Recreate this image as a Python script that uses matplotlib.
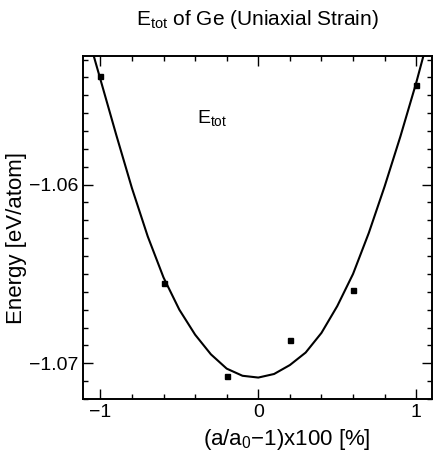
import matplotlib
matplotlib.use("Agg")
import matplotlib.pyplot as plt
from matplotlib.ticker import MultipleLocator, FixedLocator

plt.rcParams['font.family'] = ['Liberation Sans', 'DejaVu Sans']

# data points (strain %, energy eV/atom)
strain = [-1.0, -0.6, -0.2, 0.2, 0.6, 1.0]
energy = [-1.0539, -1.0655, -1.0707, -1.0687, -1.0659, -1.0544]

# fitted curve
fit_x = [-1.1, -1.0, -0.9, -0.8, -0.7, -0.6, -0.5, -0.4, -0.3, -0.2, -0.1, 0.0,
         0.1, 0.2, 0.3, 0.4, 0.5, 0.6, 0.7, 0.8, 0.9, 1.0, 1.1]
fit_y = [-1.0510, -1.0541, -1.0572, -1.0602, -1.0629, -1.0652, -1.0670, -1.0684,
         -1.0695, -1.0703, -1.0707, -1.0708, -1.0706, -1.0701, -1.0694, -1.0683,
         -1.0668, -1.0650, -1.0627, -1.0601, -1.0573, -1.0543, -1.0510]

x_ticks = [-1, 0, 1]
x_ticklabels = ['\u22121', '0', '1']
y_ticks = [-1.07, -1.06]
y_ticklabels = ['\u22121.07', '\u22121.06']

fig = plt.figure(figsize=(4.33, 4.53), dpi=100)
ax = fig.add_axes([83/433, 1-399/453, (432-83)/433, (399-56)/453])

ax.plot(fit_x, fit_y, color='black', lw=1.5, solid_joinstyle='round')
ax.plot(strain, energy, 's', color='black', ms=3.6)

ax.set_xlim(-1.11, 1.10)
ax.set_ylim(-1.0720, -1.0528)

ax.xaxis.set_major_locator(FixedLocator(x_ticks))
ax.set_xticklabels(x_ticklabels)
ax.yaxis.set_major_locator(FixedLocator(y_ticks))
ax.set_yticklabels(y_ticklabels)
ax.xaxis.set_minor_locator(MultipleLocator(0.2))
ax.yaxis.set_minor_locator(MultipleLocator(0.001))
ax.tick_params(which='both', direction='in', top=True, right=True, width=1.0, labelsize=14)
ax.tick_params(which='major', length=7)
ax.tick_params(which='minor', length=3.5)
for s in ax.spines.values():
    s.set_linewidth(1.4)

ax.text(-0.29, -1.0563, r'E$_{\mathregular{tot}}$', fontsize=14, ha='center', va='center')

ax.set_xlabel('(a/a$_{\\mathregular{0}}$\u22121)x100 [%]', fontsize=16)
ax.xaxis.set_label_coords(0.585, -0.083)
ax.set_ylabel('Energy [eV/atom]', fontsize=16)
ax.yaxis.set_label_coords(-0.16, 0.47)
ax.set_title(r'E$_{\mathregular{tot}}$ of Ge (Uniaxial Strain)', fontsize=15, pad=22)

fig.savefig('out.png', dpi=100)
